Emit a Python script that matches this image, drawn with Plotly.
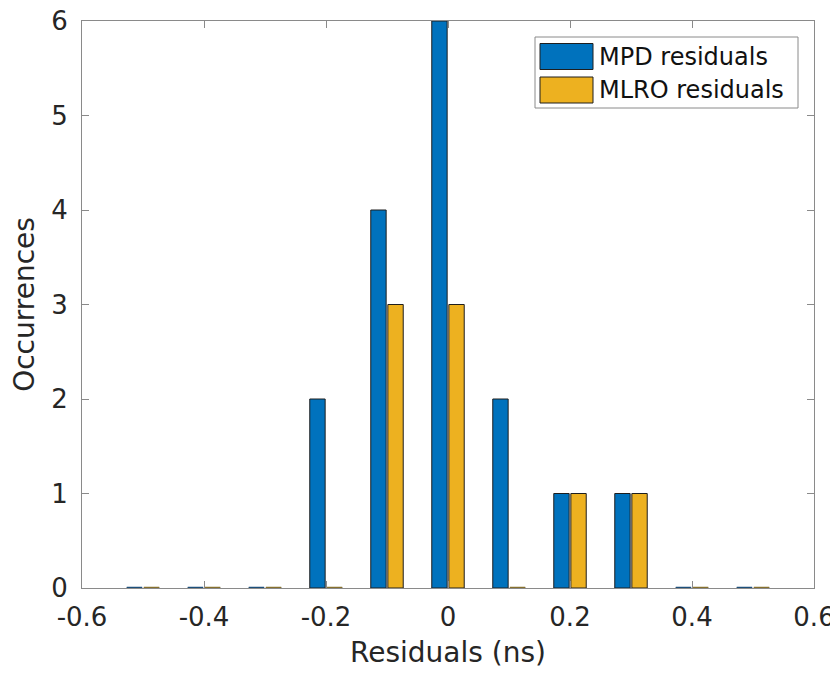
import plotly.graph_objects as go

# ---- data ----
bin_centers = [-0.5, -0.4, -0.3, -0.2, -0.1, 0.0, 0.1, 0.2, 0.3, 0.4, 0.5]
mpd_counts = [0, 0, 0, 2, 4, 6, 2, 1, 1, 0, 0]
mlro_counts = [0, 0, 0, 0, 3, 3, 0, 1, 1, 0, 0]
series_names = ["MPD residuals", "MLRO residuals"]
x_tick_vals = [-0.6, -0.4, -0.2, 0, 0.2, 0.4, 0.6]
x_tick_text = ["-0.6", "-0.4", "-0.2", "0", "0.2", "0.4", "0.6"]
y_tick_vals = [0, 1, 2, 3, 4, 5, 6]

# ---- style ----
BLUE = "#0072BD"
GOLD = "#EDB120"
EDGE = "#1e1e1e"
AXIS = "#8a8a8a"
TEXT = "#262626"
FONT = "DejaVu Sans"
BARGAP = 0.44
BARGROUPGAP = 0.10

# page body has an 8px margin; figure sized to fit the window
PAGE_OFF = 8
W, H = 838 - PAGE_OFF, 676 - PAGE_OFF
ML, MR, MT, MB = 82 - PAGE_OFF, 24, 21 - PAGE_OFF, 88
PL, PR, PT, PB = 82, 814, 21, 588  # plot area in window pixels


def px2paper_x(px):
    return (px - PL) / (PR - PL)


def px2paper_y(py):
    return (PB - py) / (PB - PT)


fig = go.Figure()
colors = [BLUE, GOLD]
for name, vals, col in [(series_names[0], mpd_counts, BLUE),
                        (series_names[1], mlro_counts, GOLD)]:
    fig.add_trace(go.Bar(
        x=bin_centers, y=vals, name=name, showlegend=False,
        marker=dict(color=col, line=dict(color=EDGE, width=1)),
    ))

# zero-height bars: MATLAB still draws their edge as a flat dash
spacing = bin_centers[1] - bin_centers[0]
slot = spacing * (1 - BARGAP) / 2
half = slot * (1 - BARGROUPGAP) / 2
for k, (vals, col) in enumerate([(mpd_counts, "#1d4f7a"), (mlro_counts, "#86702e")]):
    shift = (k - 0.5) * slot
    xs, ys = [], []
    for c, v in zip(bin_centers, vals):
        if v == 0:
            xs += [c + shift - half, c + shift + half, None]
            ys += [0, 0, None]
    fig.add_trace(go.Scatter(x=xs, y=ys, mode="lines",
                             line=dict(color=col, width=2.5),
                             showlegend=False, hoverinfo="skip", cliponaxis=False))

# ---- MATLAB-style legend (box, wide swatches, labels) ----
shapes = [dict(type="rect", xref="paper", yref="paper",
               x0=px2paper_x(535), x1=px2paper_x(798),
               y0=px2paper_y(108), y1=px2paper_y(37),
               line=dict(color=AXIS, width=1), fillcolor="white", layer="above")]
annotations = []
rows = [(43.5, 69.5), (77, 103)]
for (y0, y1), name, col in zip(rows, series_names, colors):
    shapes.append(dict(type="rect", xref="paper", yref="paper",
                       x0=px2paper_x(540), x1=px2paper_x(593),
                       y0=px2paper_y(y1), y1=px2paper_y(y0),
                       line=dict(color=EDGE, width=1), fillcolor=col, layer="above"))
    annotations.append(dict(xref="paper", yref="paper",
                            x=px2paper_x(597), y=px2paper_y((y0 + y1) / 2),
                            xanchor="left", yanchor="middle", showarrow=False,
                            text=name, font=dict(family=FONT, size=24, color="#111")))

fig.update_layout(
    width=W, height=H,
    margin=dict(l=ML, r=MR, t=MT, b=MB, autoexpand=False),
    paper_bgcolor="white", plot_bgcolor="white",
    barmode="group", bargap=BARGAP, bargroupgap=BARGROUPGAP,
    font=dict(family=FONT, color=TEXT),
    showlegend=False,
    shapes=shapes, annotations=annotations,
)
fig.update_xaxes(
    range=[-0.6, 0.6], tickvals=x_tick_vals, ticktext=x_tick_text,
    ticks="inside", ticklen=7, tickcolor=AXIS, tickwidth=1,
    showline=True, linecolor=AXIS, linewidth=1, mirror="ticks",
    showgrid=False, zeroline=False, automargin=False,
    tickfont=dict(family=FONT, size=26, color=TEXT),
    ticklabelstandoff=6, ticklabeloverflow="allow",
    title=dict(text="Residuals (ns)", font=dict(family=FONT, size=28, color=TEXT), standoff=11),
)
fig.update_yaxes(
    range=[0, 6], tickvals=y_tick_vals,
    ticks="inside", ticklen=7, tickcolor=AXIS, tickwidth=1,
    showline=True, linecolor=AXIS, linewidth=1, mirror="ticks",
    showgrid=False, zeroline=False, automargin=False,
    tickfont=dict(family=FONT, size=26, color=TEXT),
    ticklabelstandoff=8, ticklabeloverflow="allow",
    title=dict(text="Occurrences", font=dict(family=FONT, size=28, color=TEXT), standoff=8),
)

fig.write_html("out.html")
